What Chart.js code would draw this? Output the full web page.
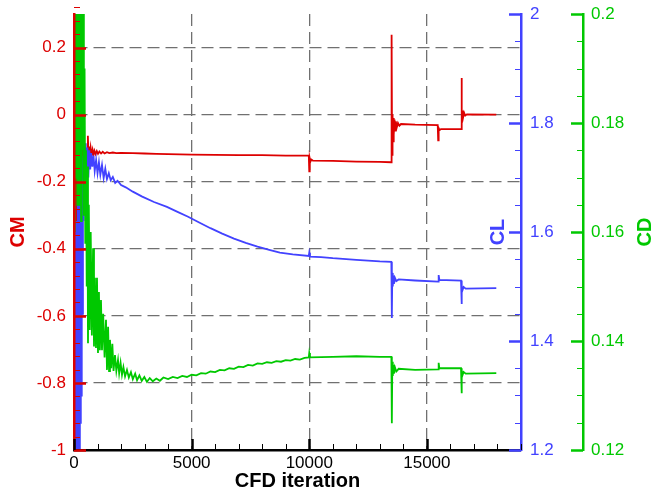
<!DOCTYPE html>
<html>
<head>
<meta charset="utf-8">
<script src="https://cdn.jsdelivr.net/npm/chart.js@4.4.1/dist/chart.umd.min.js"></script>
<style>
  html, body { margin: 0; padding: 0; background: #fff; }
  canvas { display: block; }
</style>
</head>
<body>
<canvas id="historico" width="667" height="493"></canvas>
<script>
// CM history (iteration, value)
const cmIter = [0, 15, 30, 45, 60, 80, 100, 120, 140, 165, 190, 215, 240, 265, 290, 320, 350, 380, 410, 440,
  470, 500, 530, 560, 590, 620, 650, 680, 710, 750, 790, 830, 870, 920, 970, 1020, 1080, 1150, 1220, 1300,
  1400, 1500, 1650, 1800, 2000, 2500, 3000, 3500, 4000, 5000, 6000, 7000, 8000, 9000, 9980, 10000, 10020,
  10050, 10090, 10150, 11000, 12000, 13000, 13480, 13500, 13520, 13540, 13560, 13580, 13600, 13625, 13650,
  13680, 13720, 13770, 13830, 13900, 14500, 15460, 15480, 15500, 15540, 15600, 16450, 16470, 16490, 16510,
  16540, 16580, 16630, 16700, 17950];
const cmVal = [-0.15, -0.5, 0.05, -0.6, -0.1, -0.55, 0.1, -0.45, -0.05, -0.42, 0.0, -0.38, -0.05, -0.33, -0.08,
  -0.3, -0.1, -0.25, -0.12, -0.2, -0.13, -0.17, -0.12, -0.14, -0.063, -0.13, -0.095, -0.125, -0.1, -0.12,
  -0.105, -0.12, -0.108, -0.118, -0.109, -0.117, -0.11, -0.116, -0.111, -0.116, -0.112, -0.115, -0.113,
  -0.115, -0.114, -0.115, -0.116, -0.117, -0.118, -0.119, -0.12, -0.121, -0.121, -0.122, -0.122, -0.169,
  -0.13, -0.14, -0.134, -0.137, -0.138, -0.14, -0.141, -0.142, 0.238, -0.12, 0.0, -0.08, -0.01, -0.06,
  -0.015, -0.048, -0.02, -0.038, -0.025, -0.033, -0.028, -0.03, -0.031, -0.077, -0.04, -0.046, -0.043,
  -0.043, 0.109, -0.015, 0.012, -0.008, 0.006, -0.003, 0.001, 0.0];

// CL history
const clIter = [0, 15, 30, 50, 70, 90, 110, 130, 150, 170, 190, 210, 230, 250, 270, 290, 310, 330, 350, 380,
  410, 440, 470, 500, 530, 570, 610, 650, 690, 730, 780, 830, 880, 940, 1000, 1060, 1120, 1190, 1260, 1330,
  1400, 1480, 1560, 1650, 1750, 1850, 2000, 2200, 2500, 2900, 3400, 3950, 4400, 4850, 5300, 5800, 6300,
  6800, 7300, 7800, 8300, 8750, 9300, 9980, 10000, 10030, 10500, 11000, 12000, 13000, 13490, 13510, 13530,
  13550, 13570, 13600, 13640, 13700, 13800, 14500, 15480, 15500, 15530, 16450, 16470, 16490, 16520, 16560,
  16650, 17950];
const clVal = [1.0, 1.65, 1.0, 1.6, 1.05, 1.62, 1.1, 1.6, 1.12, 1.65, 1.15, 1.66, 1.2, 1.68, 1.25, 1.7, 1.3,
  1.72, 1.45, 1.74, 1.62, 1.76, 1.68, 1.763, 1.683, 1.755, 1.7, 1.75, 1.715, 1.745, 1.72, 1.74, 1.712,
  1.732, 1.708, 1.728, 1.705, 1.723, 1.699, 1.716, 1.697, 1.708, 1.695, 1.701, 1.69, 1.694, 1.686, 1.682,
  1.674, 1.665, 1.655, 1.646, 1.637, 1.628, 1.618, 1.607, 1.597, 1.588, 1.58, 1.573, 1.567, 1.562, 1.559,
  1.556, 1.562, 1.555, 1.554, 1.552, 1.549, 1.546, 1.545, 1.442, 1.525, 1.5, 1.52, 1.505, 1.516, 1.51,
  1.513, 1.511, 1.509, 1.521, 1.512, 1.511, 1.468, 1.5, 1.494, 1.499, 1.496, 1.497];

// CD history
const cdIter = [0, 20, 40, 60, 80, 100, 120, 140, 160, 180, 200, 220, 240, 260, 280, 300, 320, 340, 360, 380,
  400, 420, 450, 480, 510, 540, 570, 595, 630, 670, 710, 760, 810, 850, 890, 935, 977, 1020, 1060, 1100,
  1147, 1190, 1240, 1300, 1360, 1402, 1450, 1490, 1530, 1580, 1630, 1680, 1742, 1800, 1870, 1920, 1980,
  2040, 2100, 2170, 2251, 2330, 2420, 2500, 2600, 2680, 2780, 2880, 2990, 3100, 3220, 3350, 3500, 3650,
  3800, 4000, 4200, 4400, 4600, 4800, 5000, 5200, 5400, 5600, 5800, 6000, 6200, 6400, 6600, 6800, 7000,
  7200, 7400, 7600, 7800, 8000, 8200, 8400, 8600, 8800, 9000, 9200, 9400, 9600, 9800, 9980, 10000, 10030,
  11000, 12000, 13000, 13490, 13510, 13530, 13550, 13570, 13600, 13640, 13700, 13800, 14500, 15480, 15500,
  15530, 16450, 16470, 16490, 16520, 16560, 16650, 17950];
const cdVal = [0.25, 0.16, 0.3, 0.17, 0.28, 0.172, 0.26, 0.165, 0.25, 0.175, 0.24, 0.165, 0.23, 0.178, 0.22,
  0.162, 0.21, 0.17, 0.215, 0.175, 0.205, 0.163, 0.19, 0.158, 0.175, 0.15, 0.172, 0.1396, 0.165, 0.142,
  0.16, 0.141, 0.157, 0.139, 0.1516, 0.1387, 0.1516, 0.1378, 0.149, 0.1383, 0.1475, 0.1383, 0.145, 0.137,
  0.1439, 0.1347, 0.1426, 0.1345, 0.1402, 0.135, 0.1395, 0.1345, 0.1374, 0.1345, 0.1365, 0.1341, 0.136,
  0.1338, 0.1352, 0.1335, 0.1347, 0.1333, 0.1343, 0.133, 0.134, 0.1328, 0.1337, 0.1327, 0.1334, 0.1325,
  0.1332, 0.1326, 0.1331, 0.1327, 0.1333,
  0.1330, 0.1334, 0.1332, 0.1336, 0.1334, 0.1338, 0.1337, 0.1341, 0.1340, 0.1344, 0.1343, 0.1347, 0.1346,
  0.1350, 0.1349, 0.1353, 0.1352, 0.1356, 0.1355, 0.1359, 0.1358, 0.1361, 0.1360, 0.1363, 0.1362, 0.1365,
  0.1364, 0.1367, 0.1366, 0.1369, 0.1370,
  0.1378, 0.137, 0.1371, 0.1372, 0.1371, 0.1371, 0.1249, 0.1362, 0.1336, 0.1356, 0.134, 0.1352, 0.1344,
  0.1349, 0.1347, 0.1348, 0.136, 0.135, 0.135, 0.1304, 0.1345, 0.1338, 0.1343, 0.134, 0.1341];

// axis ticks and labels
const xTicks = [0, 5000, 10000, 15000];
const xLabels = ['0', '5000', '10000', '15000'];
const cmTicks = [-1, -0.8, -0.6, -0.4, -0.2, 0, 0.2];
const cmLabels = ['-1', '-0.8', '-0.6', '-0.4', '-0.2', '0', '0.2'];
const clTicks = [1.2, 1.4, 1.6, 1.8, 2];
const clLabels = ['1.2', '1.4', '1.6', '1.8', '2'];
const cdTicks = [0.12, 0.14, 0.16, 0.18, 0.2];
const cdLabels = ['0.12', '0.14', '0.16', '0.18', '0.2'];

const ROJO = '#dd0000';
const AZUL = '#4242ff';
const VERDE = '#00c800';
const FUENTE = "'Liberation Sans', Arial, sans-serif";

function pares(xs, ys) {
  return xs.map((x, i) => ({ x: x, y: ys[i] }));
}

function fijarTicks(valores) {
  return scale => { scale.ticks = valores.map(v => ({ value: v })); };
}

// fixed axis band widths so the plot area lines up
function anchoFijo(w) {
  return scale => { scale.width = w; scale.paddingTop = 0; scale.paddingBottom = 0; };
}

// inward tick marks + axis titles
const marcasInternas = {
  id: 'marcasInternas',
  afterDraw(chart) {
    const ctx = chart.ctx;
    const a = chart.chartArea;
    const s = chart.scales;

    function marcasY(scale, xLinea, dir, min, max, mayor, menor, color) {
      const n = Math.round((max - min) / menor);
      for (let i = 0; i <= n; i++) {
        const v = min + i * menor;
        const esMayor = Math.abs(v / mayor - Math.round(v / mayor)) < 1e-6;
        const y = Math.round(scale.getPixelForValue(v)) + 0.5;
        ctx.beginPath();
        ctx.strokeStyle = color;
        ctx.lineWidth = esMayor ? 2.5 : 1;
        ctx.moveTo(xLinea, y);
        ctx.lineTo(xLinea + dir * (esMayor ? 12 : 6), y);
        ctx.stroke();
      }
    }

    ctx.save();
    marcasY(s.cm, a.left, 1, -1, 0.3, 0.2, 0.04, ROJO);
    marcasY(s.cl, a.right, -1, 1.2, 2, 0.2, 0.05, AZUL);
    marcasY(s.cd, s.cd.left, -1, 0.12, 0.2, 0.02, 0.005, VERDE);

    for (let v = 0; v <= 19000; v += 1000) {
      const esMayor = v % 5000 === 0;
      const x = Math.round(s.x.getPixelForValue(v)) + 0.5;
      ctx.beginPath();
      ctx.strokeStyle = '#000';
      ctx.lineWidth = esMayor ? 2.5 : 1;
      ctx.moveTo(x, a.bottom);
      ctx.lineTo(x, a.bottom - (esMayor ? 11 : 6));
      ctx.stroke();
    }

    function titulo(texto, x, y, color, girar) {
      ctx.save();
      ctx.translate(x, y);
      if (girar) ctx.rotate(-Math.PI / 2);
      ctx.font = 'bold 20px ' + FUENTE;
      ctx.fillStyle = color;
      ctx.textAlign = 'center';
      ctx.textBaseline = 'middle';
      ctx.fillText(texto, 0, 0);
      ctx.restore();
    }
    const medioY = (a.top + a.bottom) / 2;
    titulo('CM', a.left - 56, medioY, ROJO, true);
    titulo('CL', a.right - 23, medioY, AZUL, true);
    titulo('CD', s.cd.left + 62, medioY, VERDE, true);
    titulo('CFD iteration', (a.left + a.right) / 2, a.bottom + 31, '#000', false);
    ctx.restore();
  }
};

const rejilla = '#707070';

new Chart(document.getElementById('historico').getContext('2d'), {
  type: 'line',
  data: {
    datasets: [
      { label: 'CD', data: pares(cdIter, cdVal), yAxisID: 'cd', borderColor: VERDE, order: 0 },
      { label: 'CL', data: pares(clIter, clVal), yAxisID: 'cl', borderColor: AZUL, order: 1 },
      { label: 'CM', data: pares(cmIter, cmVal), yAxisID: 'cm', borderColor: ROJO, order: 2 }
    ]
  },
  options: {
    responsive: false,
    animation: false,
    events: [],
    layout: { padding: { top: 14, left: 0, right: 0, bottom: 0 } },
    elements: {
      line: { borderWidth: 1.8, tension: 0, fill: false },
      point: { radius: 0 }
    },
    font: { family: FUENTE },
    plugins: { legend: { display: false }, tooltip: { enabled: false } },
    scales: {
      x: {
        type: 'linear',
        min: 0,
        max: 19000,
        afterBuildTicks: fijarTicks(xTicks),
        afterFit: s => { s.height = 43; s.paddingLeft = 0; s.paddingRight = 0; },
        ticks: {
          color: '#000',
          font: { family: FUENTE, size: 17 },
          padding: 3,
          maxRotation: 0,
          callback: (v, i) => xLabels[i]
        },
        grid: {
          drawTicks: false,
          lineWidth: 1.3,
          color: c => (c.tick && c.tick.value === 0 ? 'rgba(0,0,0,0)' : rejilla)
        },
        border: { color: '#000', width: 2.5, dash: [12, 6], z: 1 }
      },
      cm: {
        type: 'linear',
        position: 'left',
        min: -1,
        max: 0.3,
        afterBuildTicks: fijarTicks(cmTicks),
        afterFit: anchoFijo(74),
        ticks: {
          color: ROJO,
          font: { family: FUENTE, size: 17 },
          padding: 8,
          callback: (v, i) => cmLabels[i]
        },
        grid: {
          drawTicks: false,
          lineWidth: 1.3,
          color: c => (c.tick && c.tick.value === -1 ? 'rgba(0,0,0,0)' : rejilla)
        },
        border: { color: ROJO, width: 2.5, dash: [12, 6], z: 1 }
      },
      cl: {
        type: 'linear',
        position: 'right',
        min: 1.2,
        max: 2,
        afterBuildTicks: fijarTicks(clTicks),
        afterFit: anchoFijo(62),
        ticks: {
          color: AZUL,
          font: { family: FUENTE, size: 17 },
          padding: 9,
          callback: (v, i) => clLabels[i]
        },
        grid: { drawOnChartArea: false, drawTicks: false },
        border: { color: AZUL, width: 2.5, z: 1 }
      },
      cd: {
        type: 'linear',
        position: 'right',
        min: 0.12,
        max: 0.2,
        afterBuildTicks: fijarTicks(cdTicks),
        afterFit: anchoFijo(84),
        ticks: {
          color: VERDE,
          font: { family: FUENTE, size: 17 },
          padding: 8,
          callback: (v, i) => cdLabels[i]
        },
        grid: { drawOnChartArea: false, drawTicks: false },
        border: { color: VERDE, width: 2.5, z: 1 }
      }
    }
  },
  plugins: [marcasInternas]
});
</script>
</body>
</html>
